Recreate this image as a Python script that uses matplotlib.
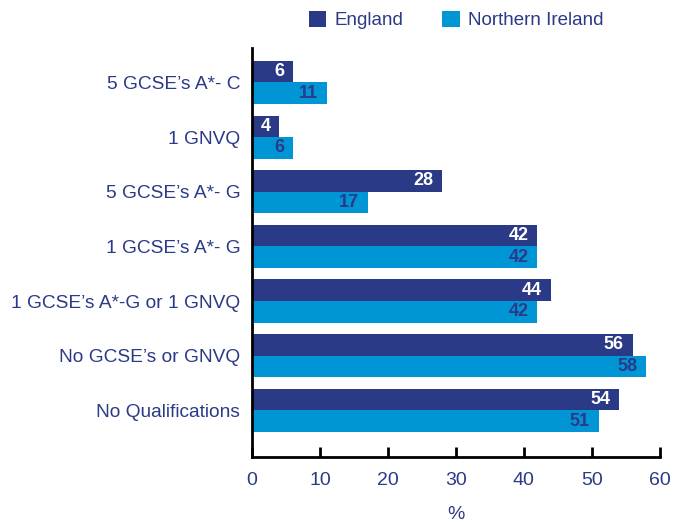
import matplotlib
matplotlib.use("Agg")
import matplotlib.pyplot as plt
import numpy as np

plt.rcParams['font.family'] = ['Liberation Sans', 'DejaVu Sans']

categories = ["5 GCSE\u2019s A*- C", "1 GNVQ", "5 GCSE\u2019s A*- G", "1 GCSE\u2019s A*- G",
              "1 GCSE\u2019s A*-G or 1 GNVQ", "No GCSE\u2019s or GNVQ", "No Qualifications"]
england = [6, 4, 28, 42, 44, 56, 54]
nireland = [11, 6, 17, 42, 42, 58, 51]
xticks = [0, 10, 20, 30, 40, 50, 60]

navy = "#2B3A87"
blue = "#0096D6"
txt = "#2B3A87"

fig = plt.figure(figsize=(6.83, 5.22), dpi=100)
ax = fig.add_axes([0.369, 0.1245, 0.597, 0.784])

y = np.arange(len(categories))
h = 0.395
ax.barh(y - h/2, england, height=h, color=navy, label="England")
ax.barh(y + h/2, nireland, height=h, color=blue, label="Northern Ireland")

off = 1.3
for yi, v in zip(y, england):
    ax.text(v - off, yi - h/2, str(v), ha="right", va="center", color="white",
            fontsize=13, fontweight="bold")
for yi, v in zip(y, nireland):
    ax.text(v - off, yi + h/2, str(v), ha="right", va="center", color=navy,
            fontsize=13, fontweight="bold")

ax.set_xlim(0, 60)
ax.set_ylim(6.855, -0.635)
ax.set_yticks(y)
ax.set_yticklabels(categories, color=txt, fontsize=13.8)
ax.set_xticks(xticks)
ax.set_xticklabels([str(t) for t in xticks], color=txt, fontsize=14)
ax.tick_params(axis="y", length=0, pad=8.5)
ax.tick_params(axis="x", direction="in", length=7, width=2, color="black", pad=11)
for s in ["top", "right"]:
    ax.spines[s].set_visible(False)
for s in ["left", "bottom"]:
    ax.spines[s].set_linewidth(2)
    ax.spines[s].set_color("black")
ax.set_xlabel("%", color=txt, fontsize=14, labelpad=12)

leg = fig.legend(loc="upper center", bbox_to_anchor=(0.668, 1.012), ncol=2, frameon=False,
                 fontsize=13.5, handlelength=0.95, handleheight=0.95, columnspacing=2.05,
                 handletextpad=0.45)
for t in leg.get_texts():
    t.set_color(txt)

fig.savefig("out.png", dpi=100)
